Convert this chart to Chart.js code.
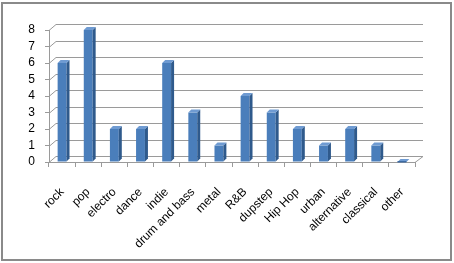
<!DOCTYPE html>
<html>
<head>
<meta charset="utf-8">
<script src="https://cdn.jsdelivr.net/npm/chart.js@4"></script>
<style>
    body { margin: 0; background: #fff; }
    canvas { display: block; }
</style>
</head>
<body>
<canvas id="genreChart" width="454" height="263"></canvas>
<script>
// Chart data
const genres = ['rock', 'pop', 'electro', 'dance', 'indie', 'drum and bass', 'metal', 'R&B', 'dupstep', 'Hip Hop', 'urban', 'alternative', 'classical', 'other'];
const votes = [6, 8, 2, 2, 6, 3, 1, 4, 3, 2, 1, 2, 1, 0];
const yMin = 0;
const yMax = 8;
const yStep = 1;

const DEPTH_X = 7;   // back wall offset
const DEPTH_Y = 6;
const BAR_DEPTH = 3; // depth of each bar's side

/**
 * Draws the frame, back wall gridlines and floor (Excel style 3D look).
 */
const wallPlugin = {
    id: 'wall',
    beforeDraw(chart) {
        const ctx = chart.ctx;
        ctx.save();
        ctx.fillStyle = '#fff';
        ctx.fillRect(0, 0, chart.width, chart.height);
        ctx.strokeStyle = '#8a8a8a';
        ctx.lineWidth = 2;
        ctx.strokeRect(2, 3, 449, 257);
        ctx.restore();
    },
    beforeDatasetsDraw(chart) {
        const ctx = chart.ctx;
        const area = chart.chartArea;
        const y = chart.scales.y;
        ctx.save();
        ctx.strokeStyle = '#9a9a9a';
        ctx.lineWidth = 1;
        y.ticks.forEach(t => {
            const py = Math.round(y.getPixelForValue(t.value)) + 0.5;
            ctx.beginPath();
            ctx.moveTo(area.left, py);
            ctx.lineTo(area.left + DEPTH_X, py - DEPTH_Y);
            ctx.lineTo(area.right + DEPTH_X + 1, py - DEPTH_Y);
            ctx.stroke();
        });
        // floor right edge
        const base = Math.round(y.getPixelForValue(0)) + 0.5;
        ctx.beginPath();
        ctx.moveTo(area.right, base);
        ctx.lineTo(area.right + DEPTH_X + 1, base - DEPTH_Y);
        ctx.stroke();
        ctx.restore();
    },
    afterDatasetsDraw(chart) {
        const ctx = chart.ctx;
        const meta = chart.getDatasetMeta(0);
        ctx.save();
        meta.data.forEach(bar => {
            const p = bar.getProps(['x', 'y', 'base', 'width'], true);
            const x0 = p.x - p.width / 2;
            const x1 = p.x + p.width / 2;
            const d = BAR_DEPTH;
            // side face
            ctx.fillStyle = '#2f5a8c';
            ctx.beginPath();
            ctx.moveTo(x1, p.y);
            ctx.lineTo(x1 + d, p.y - d);
            ctx.lineTo(x1 + d, p.base - d);
            ctx.lineTo(x1, p.base);
            ctx.closePath();
            ctx.fill();
            // top face
            ctx.fillStyle = '#6f9bd2';
            ctx.beginPath();
            ctx.moveTo(x0, p.y);
            ctx.lineTo(x0 + d, p.y - d);
            ctx.lineTo(x1 + d, p.y - d);
            ctx.lineTo(x1, p.y);
            ctx.closePath();
            ctx.fill();
            if (p.base - p.y < 1) {
                ctx.fillStyle = '#3d6ba3';
                ctx.fillRect(x0, p.y - 1, p.width, 1.5);
            }
        });
        ctx.restore();
    }
};

function initializeGenreChart() {
    try {
        const ctx = document.getElementById('genreChart').getContext('2d');
        new Chart(ctx, {
            type: 'bar',
            data: {
                labels: genres,
                datasets: [{
                    data: votes,
                    backgroundColor: '#4a7ebb',
                    borderWidth: 0,
                    barPercentage: 0.34,
                    categoryPercentage: 1
                }]
            },
            options: {
                responsive: false,
                animation: false,
                layout: {
                    padding: { left: 10, right: 39, top: 30, bottom: 5 }
                },
                plugins: {
                    legend: { display: false },
                    tooltip: { enabled: false }
                },
                scales: {
                    x: {
                        grid: {
                            offset: true,
                            drawOnChartArea: false,
                            tickLength: 5,
                            color: '#9a9a9a'
                        },
                        border: { color: '#9a9a9a' },
                        ticks: {
                            minRotation: 45,
                            maxRotation: 45,
                            autoSkip: false,
                            padding: 18,
                            color: '#000',
                            font: { family: 'Liberation Sans', size: 12 }
                        },
                        afterFit: s => { s.height = 96; }
                    },
                    y: {
                        min: yMin,
                        max: yMax,
                        grid: {
                            drawOnChartArea: false,
                            tickLength: 4,
                            color: '#9a9a9a'
                        },
                        border: { color: '#9a9a9a' },
                        ticks: {
                            stepSize: yStep,
                            autoSkip: false,
                            padding: 10,
                            color: '#000',
                            font: { family: 'Liberation Sans', size: 12 }
                        },
                        afterFit: s => { s.width = 39; }
                    }
                }
            },
            plugins: [wallPlugin]
        });
    } catch (error) {
        console.error('Error initializing genre chart:', error);
    }
}

document.addEventListener('DOMContentLoaded', function() {
    initializeGenreChart();
});
</script>
</body>
</html>
